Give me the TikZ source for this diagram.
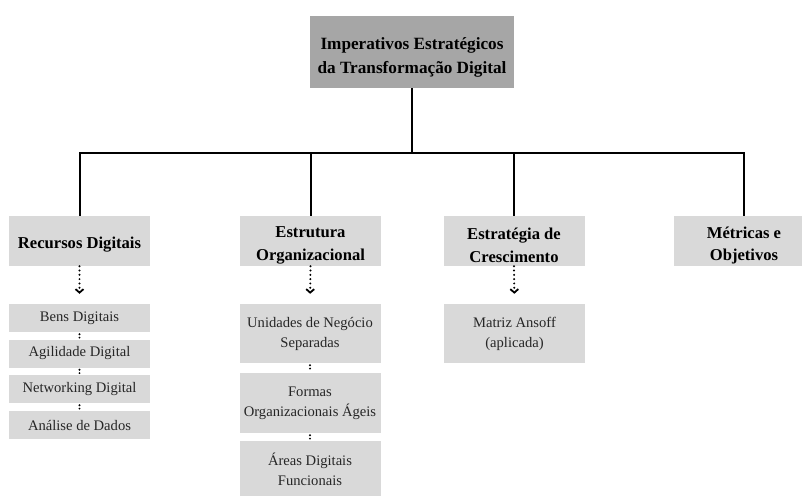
\documentclass[tikz,border=0pt]{standalone}
\usepackage{fontspec}
\setmainfont{Liberation Serif}
\usetikzlibrary{arrows.meta}
\definecolor{topgray}{HTML}{A6A6A6}
\definecolor{boxgray}{HTML}{D9D9D9}
\definecolor{txtgray}{HTML}{262626}
\tikzset{
  rootbox/.style={fill=topgray, minimum width=204pt, minimum height=72pt, inner sep=0pt},
  roottext/.style={inner sep=0pt, align=center, font=\fontsize{17.2}{24}\selectfont\bfseries},
  catbox/.style={fill=boxgray, minimum width=141pt, minimum height=50pt, inner sep=0pt},
  cattext/.style={inner sep=0pt, align=center, font=\fontsize{16.6}{22.5}\selectfont\bfseries},
  itembox/.style={fill=boxgray, minimum width=141pt, inner sep=0pt,
    align=center, text=txtgray, font=\fontsize{14.6}{20}\selectfont},
  tree/.style={line width=2pt},
  dotarrow/.style={line width=2.2pt, dash pattern=on 0pt off 4.3pt, line cap=round,
    -{Straight Barb[length=3.5pt,width=8pt,line width=1.8pt]}, shorten >=10pt},
  dotlink/.style={line width=2.2pt, dash pattern=on 0pt off 3.4pt, line cap=round,
    shorten <=2pt, shorten >=1.5pt},
}
\begin{document}
\begin{tikzpicture}[x=1pt,y=-1pt]
\useasboundingbox (0,0) rectangle (802,495);

% root
\node[rootbox] (top) at (412,52) {};
\node[roottext] (toptext) at ([yshift=-5.5pt]top.center) {Imperativos Estratégicos\\da Transformação Digital};

% categories (box, then its caption slightly below centre)
\node[catbox] (rd) at (79.5,241) {};
\node[catbox] (eo) at (310.5,241) {};
\node[catbox] (ec) at (514,241) {};
\node[catbox] (mo) at (744,241) {};
\node[cattext] (rdt) at ([yshift=-3.5pt]rd.center) {Recursos Digitais};
\node[cattext] (eot) at ([yshift=-4.5pt]eo.center) {Estrutura\\Organizacional};
\node[cattext] (ect) at ([yshift=-4.5pt]ec.center) {Estratégia de\\Crescimento};
\node[cattext] (mot) at ([yshift=-4.5pt]mo.center) {Métricas e\\Objetivos};

% items: Recursos Digitais
\node[itembox, minimum height=28pt] (bd) at (79.5,318) {Bens Digitais};
\node[itembox, minimum height=28pt] (ad) at (79.5,353.5) {Agilidade Digital};
\node[itembox, minimum height=28pt] (nd) at (79.5,389) {Networking Digital};
\node[itembox, minimum height=28pt] (da) at (79.5,425) {Análise de Dados};

% items: Estrutura Organizacional
\node[itembox, minimum height=59pt] (un) at (310,333.5) {Unidades de Negócio\\Separadas};
\node[itembox, minimum height=60pt] (fo) at (310,403) {Formas\\Organizacionais Ágeis};
\node[itembox, minimum height=56pt] (af) at (310,469) {Áreas Digitais\\Funcionais};

% items: Estratégia de Crescimento
\node[itembox, minimum height=59pt] (ma) at (514.5,333.5) {Matriz Ansoff\\(aplicada)};

% hierarchy lines
\coordinate (bus) at (412,153);
\draw[tree] (top.south) -- (bus) -| (rd.north);
\draw[tree] (bus) -| (eo.north);
\draw[tree] (bus) -| (ec.north);
\draw[tree] (bus) -| (mo.north);

% dotted arrows to item lists
\draw[dotarrow] (rd.south) -- (bd.north);
\draw[dotarrow] (eo.south) -- (un.north);
\draw[dotarrow] (ec.south) -- (ma.north);

% dotted links inside the lists
\draw[dotlink] (bd.south) -- (ad.north);
\draw[dotlink] (ad.south) -- (nd.north);
\draw[dotlink] (nd.south) -- (da.north);
\draw[dotlink] (un.south) -- (fo.north);
\draw[dotlink] (fo.south) -- (af.north);
\end{tikzpicture}
\end{document}
